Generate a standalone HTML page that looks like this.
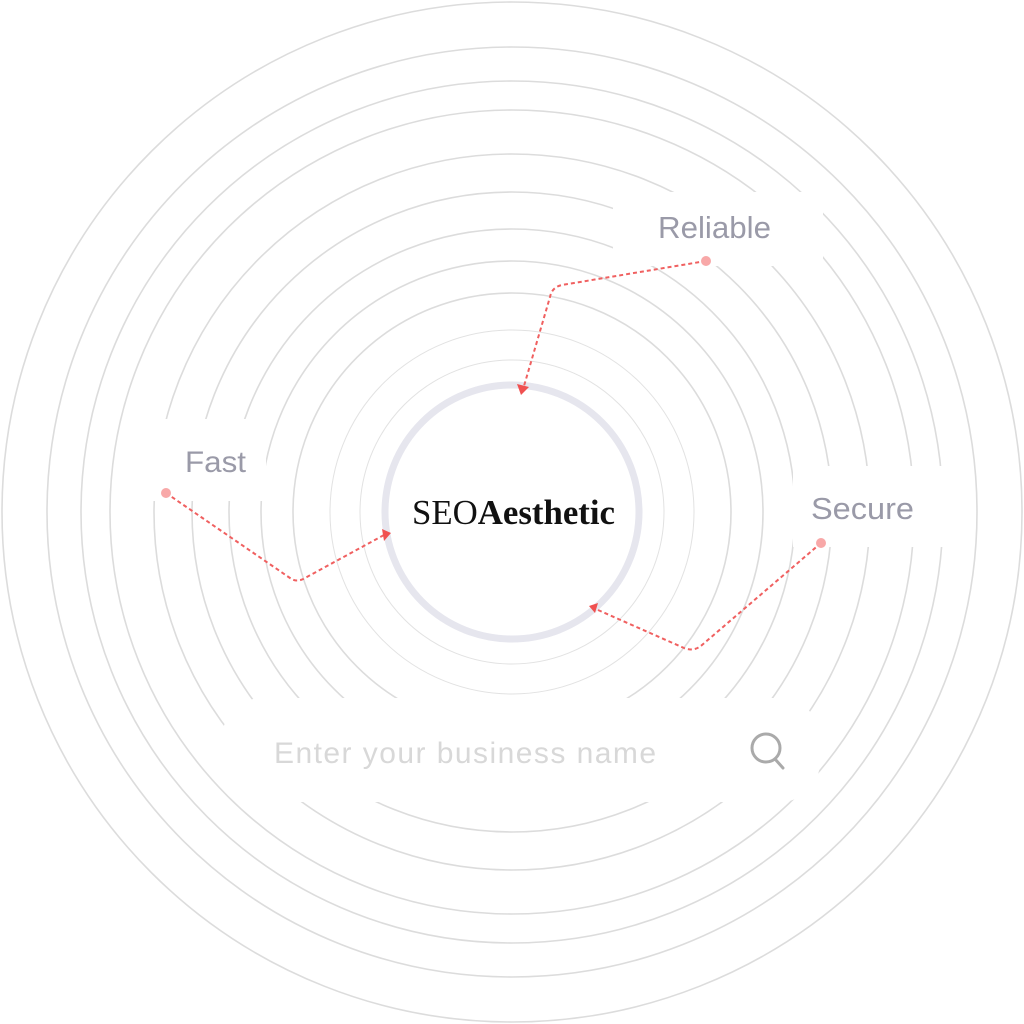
<!DOCTYPE html>
<html><head><style>
html,body{margin:0;padding:0;background:#fff;width:1024px;height:1024px;overflow:hidden}
</style></head><body>
<svg width="1024" height="1024" viewBox="0 0 1024 1024" xmlns="http://www.w3.org/2000/svg">
<g fill="none" stroke="#dcdcdc" stroke-width="1.6">
<circle cx="512" cy="512" r="510"/>
<circle cx="512" cy="512" r="465"/>
<circle cx="512" cy="512" r="431"/>
<circle cx="512" cy="512" r="402"/>
<circle cx="512" cy="512" r="358"/>
<circle cx="512" cy="512" r="320"/>
<circle cx="512" cy="512" r="283"/>
<circle cx="512" cy="512" r="251"/>
<circle cx="512" cy="512" r="219"/>
</g>
<g fill="none" stroke="#e2e2e2" stroke-width="1">
<circle cx="512" cy="512" r="182"/>
<circle cx="512" cy="512" r="152"/>
</g>
<g fill="#fff">
<rect x="613" y="192" width="210" height="74"/>
<rect x="793" y="466" width="170" height="81"/>
<rect x="150" y="419" width="116" height="82"/>
<rect x="222" y="698" width="598" height="104" rx="40"/>
</g>
<circle cx="512" cy="512" r="127" fill="none" stroke="#e6e6ee" stroke-width="7"/>
<g font-family="Liberation Sans, sans-serif" fill="#9a9aa8">
<text x="658" y="238" font-size="31" textLength="113" lengthAdjust="spacingAndGlyphs">Reliable</text>
<text x="811" y="519" font-size="31" textLength="103" lengthAdjust="spacingAndGlyphs">Secure</text>
<text x="185" y="472" font-size="30" textLength="61" lengthAdjust="spacingAndGlyphs">Fast</text>
</g>
<text x="274" y="763" font-family="Liberation Sans, sans-serif" font-size="30" fill="#d8d8d8" textLength="382" lengthAdjust="spacing">Enter your business name</text>
<g fill="none" stroke="#aaa" stroke-width="3" stroke-linecap="round">
<circle cx="766" cy="748" r="14"/>
<line x1="775" y1="759" x2="783" y2="768"/>
</g>
<text x="412" y="524" font-family="Liberation Serif, serif" font-size="35" fill="#111" textLength="203" lengthAdjust="spacingAndGlyphs"><tspan font-weight="normal">SEO</tspan><tspan font-weight="bold">Aesthetic</tspan></text>
<g fill="none" stroke="#f06060" stroke-width="2" stroke-dasharray="4 3">
<path d="M706 261 L562 285 Q552 287 550 297 L524 386"/>
<path d="M166 493 L290 578 Q297 583 305 578 L384 535"/>
<path d="M821 543 L702 645 Q694 652 684 648 L598 610"/>
</g>
<g fill="#f8a8a8">
<circle cx="706" cy="261" r="5"/>
<circle cx="166" cy="493" r="5"/>
<circle cx="821" cy="543" r="5"/>
</g>
<g fill="#f05050">
<polygon points="517,384 529,387 521,395"/>
<polygon points="382,529 391,533 384,541"/>
<polygon points="589,606 598,603 595,613"/>
</g>
</svg>
</body></html>
